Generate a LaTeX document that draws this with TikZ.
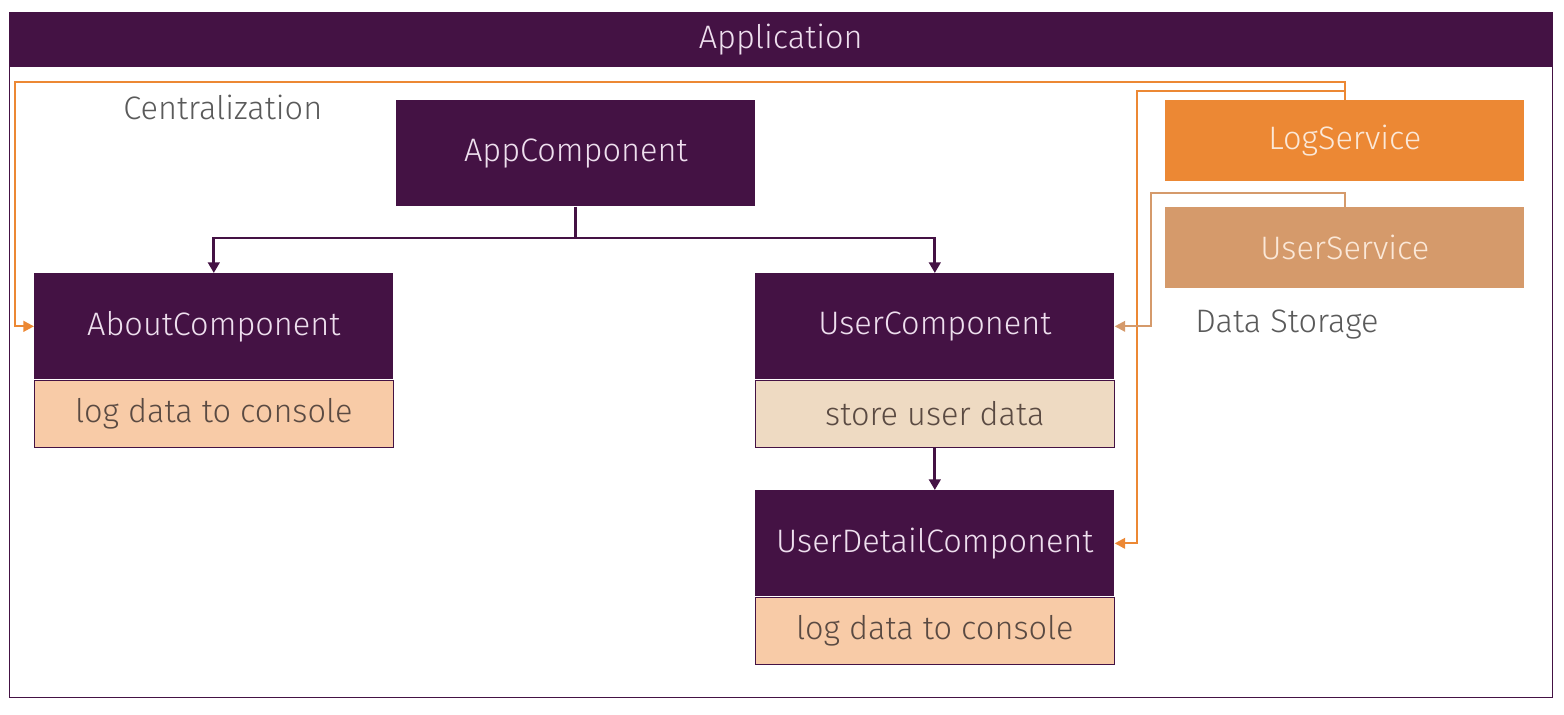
\documentclass[tikz,border=0pt]{standalone}
\usepackage{fontspec}
\setmainfont{Fira Sans Light}
\usetikzlibrary{arrows.meta}
\definecolor{purp}{HTML}{441244}
\definecolor{ptext}{HTML}{EEDFEE}
\definecolor{logc}{HTML}{EC8834}
\definecolor{userc}{HTML}{D59A6B}
\definecolor{stext}{HTML}{FBE8D8}
\definecolor{logfill}{HTML}{F8CBA7}
\definecolor{storefill}{HTML}{EEDAC2}
\definecolor{dutytext}{HTML}{5A4A42}
\definecolor{note}{HTML}{5A5A5A}
\begin{document}
\begin{tikzpicture}[x=0.02cm,y=-0.02cm,
    every node/.style={font=\fontsize{18.5}{22}\selectfont,inner sep=0pt},
    comp/.style={fill=purp,text=ptext,minimum width=7.18cm,minimum height=2.12cm,anchor=north west},
    duty/.style={draw=purp,line width=0.6pt,text=dutytext,minimum width=7.18cm,minimum height=1.34cm,anchor=north},
    service/.style={text=stext,minimum width=7.18cm,minimum height=1.61cm,anchor=north west},
    note/.style={text=note,anchor=west},
    tree/.style={draw=purp,line width=1.6pt,-{Triangle[length=6pt,width=6.5pt]}},
    logline/.style={draw=logc,line width=1.3pt,-{Triangle[length=6pt,width=6pt]}},
    userline/.style={draw=userc,line width=1.3pt,-{Triangle[length=6pt,width=6pt]}}]
    \useasboundingbox (0,0) rectangle (1564,715);
    % frame of the application
    \node[draw=purp,line width=0.8pt,minimum width=30.86cm,minimum height=13.7cm,anchor=north west] (frame) at (9,12) {};
    \node[fill=purp,text=ptext,minimum width=30.86cm,minimum height=1.1cm,anchor=north west] (appbar) at (9,12) {Application};
    \node[note] (central) at (123,107) {Centralization};
    \node[note] (storage) at (1195,325) {Data Storage};
    % components
    \node[comp] (appc) at (396,100) {AppComponent};
    \node[comp] (about) at (34,273) {AboutComponent};
    \node[duty,fill=logfill] (aboutlog) at (about.south) {log data to console};
    \node[comp] (ucomp) at (755,273) {UserComponent};
    \node[duty,fill=storefill] (ustore) at (ucomp.south) {store user data};
    \node[comp] (udetail) at (755,490) {UserDetailComponent};
    \node[duty,fill=logfill] (udetaillog) at (udetail.south) {log data to console};
    % services
    \node[service,fill=logc] (log) at (1165,100) {LogService};
    \node[service,fill=userc] (user) at (1165,207) {UserService};
    % component tree
    \coordinate (split) at (575,238);
    \draw[tree] (appc.south) -- (appc.south |- split) -| (about.north);
    \draw[tree] (appc.south |- split) -| (ucomp.north);
    \draw[tree] (ustore.south) -- (udetail.north);
    % injections
    \coordinate (c1) at (15,82);
    \coordinate (c2) at (1137,91);
    \coordinate (c3) at (1151,193);
    \draw[logline] (log.north) |- (c1) |- (about.west);
    \draw[logline] (log.north |- c2) -- (c2) |- (udetail.east);
    \draw[userline] (user.north) |- (c3) |- (ucomp.east);
\end{tikzpicture}
\end{document}
